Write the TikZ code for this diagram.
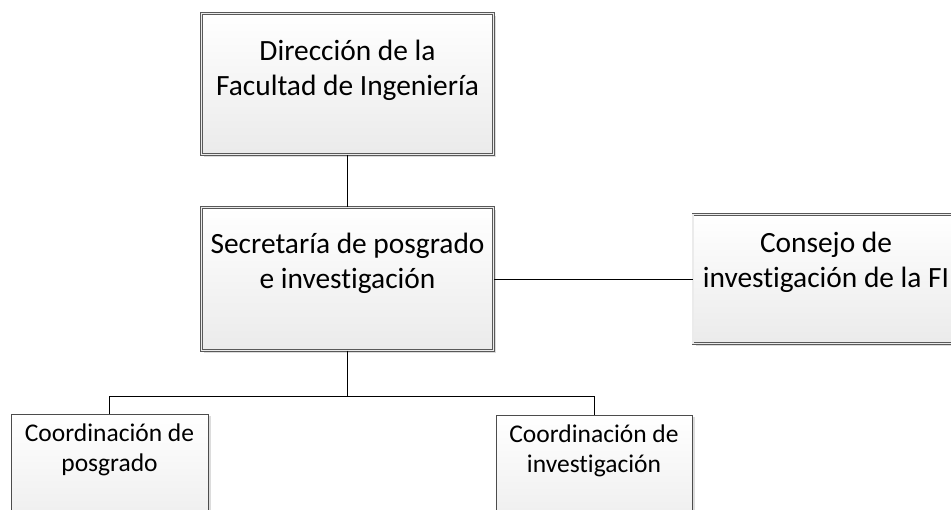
\documentclass[tikz,border=0pt]{standalone}
\usepackage{fontspec}
\setmainfont{Carlito}[Ligatures=NoCommon]
\usetikzlibrary{shadows}
\begin{document}
\begin{tikzpicture}[x=1pt,y=-1pt,
  boxbase/.style={rectangle, inner sep=0pt, top color=white, bottom color=black!8,
    drop shadow={shadow xshift=2.5pt, shadow yshift=-2.5pt, opacity=0.3, fill=black!45}},
  dblbox/.style={boxbase, draw=black!65, line width=0.6pt, double=white!92!black, double distance=1.5pt},
  sglbox/.style={boxbase, draw=black!70, line width=0.8pt},
  bigtxt/.style={anchor=base, align=center, inner sep=0pt, font=\fontsize{29.4}{35}\selectfont},
  smalltxt/.style={anchor=base, align=center, inner sep=0pt, font=\fontsize{25.5}{30}\selectfont},
  link/.style={draw=black, line width=0.8pt}
]
\useasboundingbox (0,0) rectangle (951,510);
\clip (0,0) rectangle (951,510);

\node[dblbox, minimum width=292pt, minimum height=141pt] (dir) at (347.5,84) {};
\node[dblbox, minimum width=292pt, minimum height=143pt] (sec) at (347.5,279) {};
\node[dblbox, minimum width=266pt, minimum height=129pt] (con) at (826,279) {};
\node[sglbox, minimum width=197pt, minimum height=130pt] (cp) at (109.5,479) {};
\node[sglbox, minimum width=196pt, minimum height=130pt] (ci) at (594,480) {};

\draw[link] (dir.south) -- (sec.north);
\draw[link] (sec.east) -- (con.west);
\draw[link] (sec.south) -- ++(0,46) -| (cp.north);
\draw[link] (sec.south) -- ++(0,46) -| (ci.north);

\node[bigtxt] (tdir) at ([yshift=-82pt]dir.north) {Dirección de la\\Facultad de Ingeniería};
\node[bigtxt] (tsec) at ([yshift=-81pt]sec.north) {Secretaría de posgrado\\e investigación};
\node[bigtxt] (tcon) at ([yshift=-73pt]con.north) {Consejo de\\investigación de la FI};
\node[smalltxt] (tcp) at ([yshift=-58pt]cp.north) {Coordinación de\\posgrado};
\node[smalltxt] (tci) at ([yshift=-58pt]ci.north) {Coordinación de\\investigación};
\end{tikzpicture}
\end{document}
